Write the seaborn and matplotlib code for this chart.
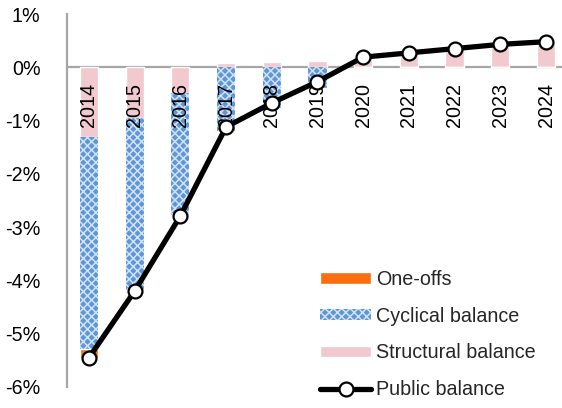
import numpy as np
import pandas as pd
import matplotlib
matplotlib.use("Agg")
import matplotlib.pyplot as plt
import seaborn as sns

years = ["2014", "2015", "2016", "2017", "2018", "2019", "2020", "2021", "2022", "2023", "2024"]
structural = [-1.31, -0.95, -0.49, 0.08, 0.09, 0.12, 0.19, 0.26, 0.34, 0.42, 0.48]
cyclical = [-3.98, -3.23, -2.28, -1.20, -0.76, -0.39, 0.0, 0.0, 0.0, 0.0, 0.0]
one_offs = [-0.16, 0.0, 0.0, 0.0, 0.0, 0.0, 0.0, 0.0, 0.0, 0.0, 0.0]
public = [-5.45, -4.20, -2.79, -1.12, -0.67, -0.27, 0.19, 0.27, 0.35, 0.43, 0.48]
y_ticks = [1, 0, -1, -2, -3, -4, -5, -6]

sns.set_theme(style="white")
plt.rcParams["font.family"] = ["Liberation Sans", "DejaVu Sans"]
plt.rcParams["hatch.linewidth"] = 1.1

struct_arr = np.array(structural)
cyc_arr = np.array(cyclical)
cyc_bottom = np.minimum(struct_arr, 0)
oo_bottom = cyc_bottom + cyc_arr

df = pd.DataFrame({"year": years, "structural": structural,
                   "cyclical": cyclical, "one_offs": one_offs})

fig = plt.figure(figsize=(5.62, 4.08), dpi=100)
ax = fig.add_axes([67 / 562, 21 / 408, (562 - 67) / 562, (387 - 14) / 408])

grey = "#a6a6a6"
ax.axhline(0, color=grey, lw=1.6, zorder=1)

bar_w = 0.40
sns.barplot(data=df, x="year", y="structural", color="#f2c9cf", saturation=1,
            width=bar_w, ax=ax, label="Structural balance", zorder=2)
sns.barplot(data=df, x="year", y="cyclical", color="#5e97d6", saturation=1,
            width=bar_w, ax=ax, bottom=cyc_bottom, label="Cyclical balance",
            hatch="xxxx", edgecolor="#d2e2f5", linewidth=0, zorder=2)
sns.barplot(data=df, x="year", y="one_offs", color="#fa6e12", saturation=1,
            width=bar_w, ax=ax, bottom=oo_bottom, label="One-offs", zorder=2)

pos = np.arange(len(years))
sns.lineplot(x=pos, y=public, color="black", lw=3.8, marker="o", markersize=10,
             markerfacecolor="white", markeredgecolor="black", markeredgewidth=1.6,
             ax=ax, label="Public balance", zorder=5)

for i, yr in enumerate(years):
    ax.text(i, -0.71, yr, rotation=90, ha="center", va="center",
            fontsize=14.2, color="black", zorder=4)

ax.set_xlim(-0.48, 10.35)
ax.set_ylim(-6, 1)
ax.set_yticks(y_ticks)
ax.set_yticklabels([f"{t}%" for t in y_ticks], fontsize=14.2, color="black")
ax.set_xticks([])
ax.set_xlabel("")
ax.set_ylabel("")
ax.tick_params(axis="y", length=0, pad=19)
for s in ["top", "right", "bottom"]:
    ax.spines[s].set_visible(False)
ax.spines["left"].set_color(grey)
ax.spines["left"].set_linewidth(1.6)

handles, labels = ax.get_legend_handles_labels()
hmap = dict(zip(labels, handles))
order = ["One-offs", "Cyclical balance", "Structural balance", "Public balance"]
ax.legend([hmap[k] for k in order], order, loc="upper left",
          bbox_to_anchor=(320 / 562, 1 - 270 / 408), bbox_transform=fig.transFigure,
          frameon=False, fontsize=14.2, handlelength=2.6, handleheight=0.5,
          handletextpad=0.25, labelspacing=0.9, borderpad=0, borderaxespad=0)

fig.savefig("out.png", dpi=100)
